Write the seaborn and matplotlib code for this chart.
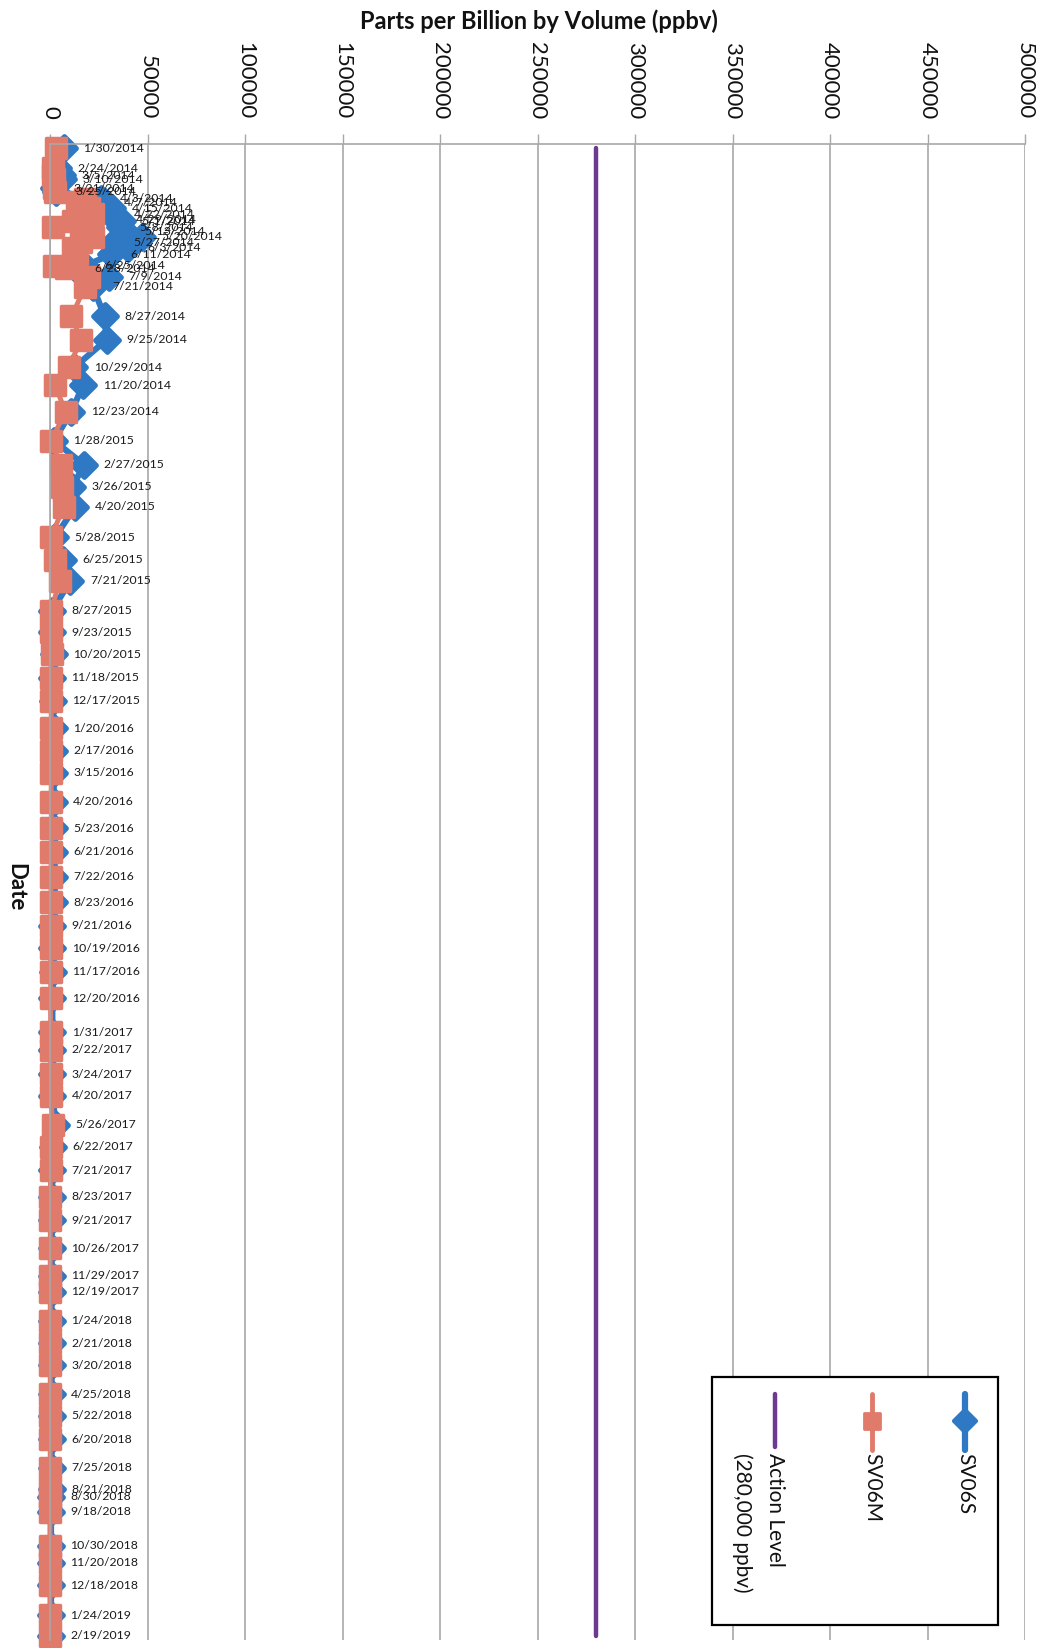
import pandas as pd
import numpy as np
import matplotlib
matplotlib.use('Agg')
import matplotlib.pyplot as plt
import matplotlib.dates as mdates
from matplotlib.markers import MarkerStyle
from matplotlib.patches import Rectangle
import seaborn as sns

sns.set_theme(style='white')
plt.rcParams['font.family'] = ['Lato', 'DejaVu Sans']

# Sampling dates (shared by both probes)
dates = [
    '2014-01-30', '2014-02-24', '2014-03-05', '2014-03-10', '2014-03-21', '2014-03-25',
    '2014-04-03', '2014-04-07', '2014-04-15', '2014-04-22', '2014-04-29', '2014-05-01',
    '2014-05-08', '2014-05-13', '2014-05-20', '2014-05-27', '2014-06-03', '2014-06-11',
    '2014-06-25', '2014-06-28', '2014-07-09', '2014-07-21', '2014-08-27', '2014-09-25',
    '2014-10-29', '2014-11-20', '2014-12-23',
    '2015-01-28', '2015-02-27', '2015-03-26', '2015-04-20', '2015-05-28', '2015-06-25',
    '2015-07-21', '2015-08-27', '2015-09-23', '2015-10-20', '2015-11-18', '2015-12-17',
    '2016-01-20', '2016-02-17', '2016-03-15', '2016-04-20', '2016-05-23', '2016-06-21',
    '2016-07-22', '2016-08-23', '2016-09-21', '2016-10-19', '2016-11-17', '2016-12-20',
    '2017-01-31', '2017-02-22', '2017-03-24', '2017-04-20', '2017-05-26', '2017-06-22',
    '2017-07-21', '2017-08-23', '2017-09-21', '2017-10-26', '2017-11-29', '2017-12-19',
    '2018-01-24', '2018-02-21', '2018-03-20', '2018-04-25', '2018-05-22', '2018-06-20',
    '2018-07-25', '2018-08-21', '2018-08-30', '2018-09-18', '2018-10-30', '2018-11-20',
    '2018-12-18', '2019-01-24', '2019-02-19',
]

# SV06S (blue) ppbv
sv06s = [
    7000, 4000, 6000, 6500, 2000, 3000,
    26000, 28000, 32000, 33000, 34000, 37000,
    36000, 38500, 47000, 33000, 40000, 31500,
    18000, 13000, 30000, 22000, 28000, 29000,
    12500, 17000, 11000,
    2000, 17500, 11500, 13000, 2500, 6500,
    10500, 1000, 1200, 1800, 800, 1500,
    1800, 2000, 2000, 1800, 2000, 1800,
    1800, 1800, 1200, 1200, 1500, 1200,
    1200, 1200, 1200, 1200, 3000, 1500,
    1200, 1000, 1000, 800, 800, 800,
    800, 800, 800, 800, 800, 800,
    800, 800, 600, 500, 500, 500,
    500, 500, 500,
]

# SV06M (red) ppbv
sv06m = [
    3000, 1500, 1500, 2000, 2000, 2500,
    18000, 14000, 20000, 22000, 15000, 12000,
    1500, 18000, 22000, 16000, 12000, 14000,
    2000, 8000, 20000, 18000, 11000, 16000,
    9500, 2500, 8000,
    600, 5500, 6000, 7000, 500, 2500,
    5000, 500, 500, 800, 400, 600,
    600, 700, 600, 600, 700, 600,
    500, 500, 300, 300, 400, 300,
    300, 300, 300, 300, 1500, 500,
    300, 200, 200, 100, 100, 100,
    100, 100, 100, 100, 100, 100,
    100, 100, 0, 0, 0, 0,
    0, 0, 0,
]

action_level = 280000
date_labels = [f"{d.month}/{d.day}/{d.year}" for d in pd.to_datetime(dates)]

blue = '#2f79c4'
red = '#e07a6b'
purple = '#6c3b91'
grid_c = '#a8a8a8'

df = pd.DataFrame({'date': pd.to_datetime(dates), 'SV06S': sv06s, 'SV06M': sv06m})
act = pd.DataFrame({'date': pd.to_datetime([dates[0], dates[-1]]),
                    'ppbv': [action_level, action_level]})

diamond = MarkerStyle('D', joinstyle='round')
square = MarkerStyle('s', joinstyle='round')

fig = plt.figure(figsize=(10.42, 16.48), dpi=100)
ax = fig.add_axes([50 / 1042, 8 / 1648, (1025 - 50) / 1042, (1640 - 144) / 1648])

sns.lineplot(data=act, x='ppbv', y='date', orient='y', color=purple, lw=3.2, ax=ax)
sns.lineplot(data=df, x='SV06S', y='date', orient='y', color=blue, lw=4.5,
             marker=diamond, markersize=12.5, markeredgecolor=blue, markeredgewidth=3.5,
             clip_on=False, ax=ax)
sns.lineplot(data=df, x='SV06M', y='date', orient='y', color=red, lw=3.5,
             marker=square, markersize=14, markeredgecolor=red, markeredgewidth=2.5,
             clip_on=False, ax=ax)

# date data labels to the right of the SV06S points
for d, v, lab in zip(df['date'], sv06s, date_labels):
    ax.annotate(lab, xy=(v, mdates.date2num(d)), xytext=(14, 0), textcoords='offset points',
                ha='left', va='center', fontsize=8.8, color='#1a1a1a')

ax.set_xlim(0, 500000)
ax.set_ylim(mdates.date2num(pd.Timestamp('2019-02-24')), mdates.date2num(pd.Timestamp('2014-01-25')))
ax.set_xticks(np.arange(0, 500001, 50000))
ax.set_xticklabels([str(t) for t in range(0, 500001, 50000)])
ax.xaxis.tick_top()
ax.tick_params(axis='x', labelrotation=270, length=7, color=grid_c, width=1,
               labelsize=16, pad=11, top=True, bottom=False, labelcolor='#111111')
ax.set_yticks([])
ax.set_xlabel('')
ax.set_ylabel('')
ax.grid(axis='x', color=grid_c, lw=1.2)
ax.grid(axis='y', visible=False)
for s in ['bottom', 'right']:
    ax.spines[s].set_visible(False)
for s in ['top', 'left']:
    ax.spines[s].set_color(grid_c)
    ax.spines[s].set_linewidth(1.2)

fig.text(539 / 1042, 1 - 21 / 1648, 'Parts per Billion by Volume (ppbv)', ha='center', va='center',
         fontsize=17, fontweight='bold', color='#111111')
fig.text(16 / 1042, 1 - 887 / 1648, 'Date', rotation=270, ha='center', va='center',
         fontsize=16, fontweight='bold', color='#111111')

# legend, drawn rotated like the rest of the chart
ov = fig.add_axes([0, 0, 1, 1], facecolor='none')
ov.set_xlim(0, 1042)
ov.set_ylim(1648, 0)
ov.axis('off')
ov.add_patch(Rectangle((712, 1377), 286, 248, fill=True, facecolor='white', edgecolor='black', lw=1.6))
ov.plot([965, 965], [1394, 1450], color=blue, lw=4.5, solid_capstyle='round')
ov.plot([965], [1421], marker=diamond, markersize=11, markeredgewidth=3, color=blue)
ov.text(965, 1453, 'SV06S', rotation=270, ha='center', va='top', fontsize=15, color='#111111')
ov.plot([872, 872], [1394, 1450], color=red, lw=3.5, solid_capstyle='round')
ov.plot([872], [1421], marker=square, markersize=11, markeredgewidth=2, color=red)
ov.text(872, 1453, 'SV06M', rotation=270, ha='center', va='top', fontsize=15, color='#111111')
ov.plot([775, 775], [1394, 1447], color=purple, lw=3.2, solid_capstyle='round')
ov.text(775, 1453, 'Action Level', rotation=270, ha='center', va='top', fontsize=15, color='#111111')
ov.text(742, 1453, '(280,000 ppbv)', rotation=270, ha='center', va='top', fontsize=15, color='#111111')

fig.savefig('out.png', dpi=100)
